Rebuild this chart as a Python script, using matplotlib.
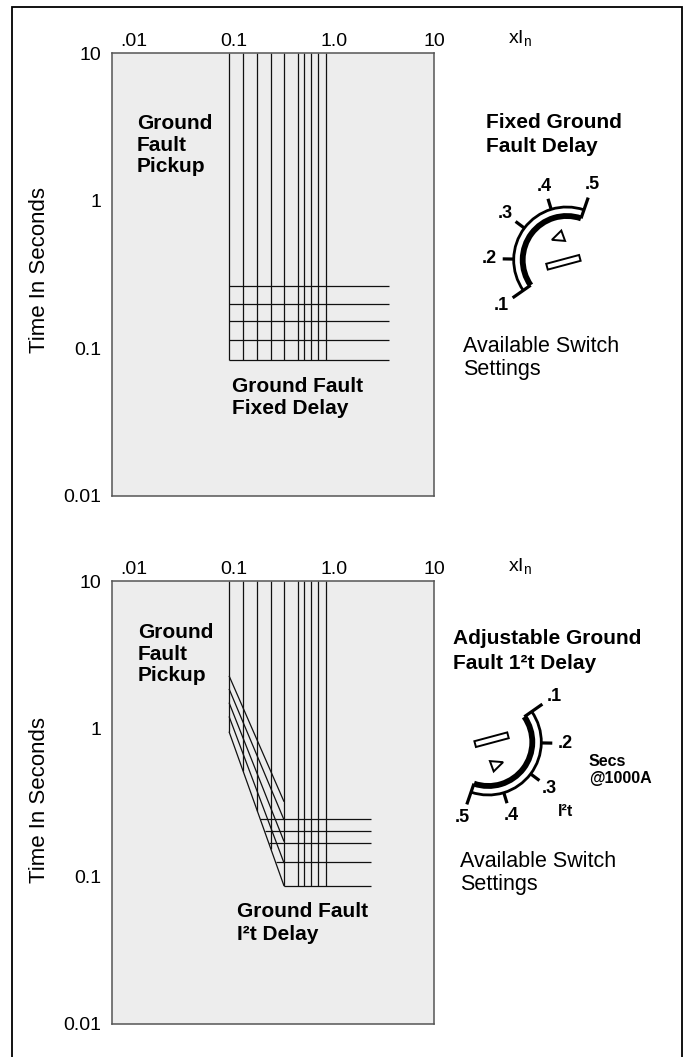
import numpy as np
import matplotlib
matplotlib.use("Agg")
import matplotlib.pyplot as plt
from matplotlib.patches import Arc, Polygon, Rectangle

plt.rcParams["font.family"] = ["Liberation Sans", "DejaVu Sans"]
plt.rcParams["mathtext.default"] = "regular"

W, H = 690, 1057

# axis ticks
x_ticks = [0.01, 0.1, 1, 10]
x_tick_labels = [".01", "0.1", "1.0", "10"]
y_ticks = [10, 1, 0.1, 0.01]
y_tick_labels = ["10", "1", "0.1", "0.01"]

# ground fault pickup settings (x In)
pickup = [0.089, 0.123, 0.170, 0.234, 0.316, 0.436, 0.50, 0.588, 0.691, 0.831]

# fixed delay bands (seconds)
fixed_delay = [0.264, 0.199, 0.152, 0.113, 0.084]
fixed_delay_end = 3.55

# I2t ramps: time at min pickup and at the knee current, then flat delays
i2t_start = [2.28, 1.86, 1.50, 1.21, 0.954]
i2t_knee = [0.320, 0.241, 0.172, 0.123, 0.086]
i2t_knee_current = 0.316
i2t_delay = [0.243, 0.202, 0.167, 0.125, 0.086]
i2t_delay_end = 2.34

dial_labels = [".1", ".2", ".3", ".4", ".5"]

fig = plt.figure(figsize=(W / 100, H / 100), dpi=100)

line = dict(color="#111111", lw=0.9, solid_capstyle="butt")


def setup_axes(top_px):
    ax = fig.add_axes([112 / W, 1 - (top_px + 443) / H, 322 / W, 443 / H])
    ax.set_xscale("log")
    ax.set_yscale("log")
    ax.set_xlim(0.006, 10)
    ax.set_ylim(0.01, 10)
    ax.set_facecolor("#ededed")
    for s in ax.spines.values():
        s.set_color("#555555")
        s.set_linewidth(1.1)
    ax.xaxis.tick_top()
    ax.set_xticks(x_ticks, x_tick_labels)
    ax.set_yticks(y_ticks, y_tick_labels)
    ax.minorticks_off()
    ax.tick_params(length=0, labelsize=14)
    ax.tick_params(axis="x", pad=2.5)
    ax.tick_params(axis="y", pad=8)
    return ax


# --- top chart: fixed delay
ax1 = setup_axes(53)
for p in pickup:
    ax1.plot([p, p], [10, min(fixed_delay)], **line)
for d in fixed_delay:
    ax1.plot([pickup[0], fixed_delay_end], [d, d], **line)

# --- bottom chart: I2t delay
ax2 = setup_axes(581)
lx_env = np.log10([pickup[0], i2t_knee_current])
ly_env = np.log10([i2t_start[-1], i2t_knee[-1]])


def env_time(i):
    return 10 ** np.interp(np.log10(i), lx_env, ly_env)


def env_current(t):
    return 10 ** np.interp(np.log10(t), ly_env[::-1], lx_env[::-1])


for p in pickup:
    ax2.plot([p, p], [10, env_time(p)], **line)
for s, e in zip(i2t_start, i2t_knee):
    ax2.plot([pickup[0], i2t_knee_current], [s, e], **line)
for d in i2t_delay:
    ax2.plot([env_current(d), i2t_delay_end], [d, d], **line)

# overlay in pixel coords for text, dials and frame
ov = fig.add_axes([0, 0, 1, 1])
ov.set_xlim(0, W)
ov.set_ylim(0, H)
ov.axis("off")


def T(x, y, s, **kw):
    kw.setdefault("fontsize", 15)
    kw.setdefault("va", "top")
    kw.setdefault("ha", "left")
    kw.setdefault("linespacing", 1.17)
    ov.text(x, H - y, s, **kw)


ov.add_patch(Rectangle((12, -5), 670, H - 7 + 5, fill=False, lw=1.3, ec="k"))

for top_px, cy in [(53, 270), (581, 800)]:
    T(40, cy, "Time In Seconds", rotation=90, ha="center", va="center", fontsize=16)
    T(508, top_px - 10, r"xI$_{n}$", fontsize=14, va="baseline")

T(137, 114, "Ground\nFault\nPickup", fontweight="bold")
T(232, 377, "Ground Fault\nFixed Delay", fontweight="bold")
T(486, 113, "Fixed Ground\nFault Delay", fontweight="bold", linespacing=1.33)
T(463, 336, "Available Switch\nSettings", fontsize=15.5, linespacing=1.1)

T(138, 623, "Ground\nFault\nPickup", fontweight="bold")
T(237, 902, "Ground Fault\nI\u00b2t Delay", fontweight="bold", linespacing=1.25)
T(453, 629, "Adjustable Ground\nFault 1\u00b2t Delay", fontweight="bold", linespacing=1.42)
T(589, 754, "Secs\n@1000A", fontweight="bold", fontsize=11.5, linespacing=1.2)
T(558, 816, "I\u00b2t", fontweight="bold", fontsize=11.5, va="baseline")
T(460, 851, "Available Switch\nSettings", fontsize=15.5, linespacing=1.1)


def draw_dial(cx_img, cy_img, rot):
    cx, cy = cx_img, H - cy_img
    angles = 215 - 36 * np.arange(len(dial_labels)) + rot
    r_in, r_out = 44, 53
    lo, hi = angles.min(), angles.max()
    ov.add_patch(Arc((cx, cy), 2 * r_out, 2 * r_out, theta1=lo, theta2=hi, lw=2.0, color="k"))
    ov.add_patch(Arc((cx, cy), 2 * r_in, 2 * r_in, theta1=lo, theta2=hi, lw=4.2, color="k"))
    for i, (a, lab) in enumerate(zip(angles, dial_labels)):
        c, s = np.cos(np.radians(a)), np.sin(np.radians(a))
        end = i in (0, len(angles) - 1)
        r0 = r_in if end else r_out
        r1 = r_out + (13 if end else 11)
        ov.plot([cx + r0 * c, cx + r1 * c], [cy + r0 * s, cy + r1 * s],
                color="k", lw=2.3, solid_capstyle="butt")
        rl = 80 if end else 77
        ov.text(cx + rl * c, cy + rl * s, lab, ha="center", va="center",
                fontsize=13, fontweight="bold")
    # pointer triangle
    ta = np.radians(110 + rot)
    tc = np.array([cx + 24 * np.cos(ta), cy + 24 * np.sin(ta)])
    u = np.array([np.cos(ta + np.pi / 2), np.sin(ta + np.pi / 2)])
    v = np.array([-u[1], u[0]])
    ov.add_patch(Polygon([tc + 7 * u, tc - 5 * u + 5.5 * v, tc - 5 * u - 5.5 * v],
                         closed=True, fill=False, lw=1.4, ec="k"))
    # switch slot
    ra = np.radians(angles[0])
    rc = np.array([cx + 4 * np.cos(ra), cy + 4 * np.sin(ra)])
    d = np.radians(15)
    u = np.array([np.cos(d), np.sin(d)])
    v = np.array([-u[1], u[0]])
    ov.add_patch(Polygon([rc + 17 * u + 3 * v, rc - 17 * u + 3 * v,
                          rc - 17 * u - 3 * v, rc + 17 * u - 3 * v],
                         closed=True, fill=False, lw=1.4, ec="k"))


draw_dial(566.7, 260, 0)
draw_dial(488.3, 742, 180)

fig.savefig("out.png", dpi=100)
